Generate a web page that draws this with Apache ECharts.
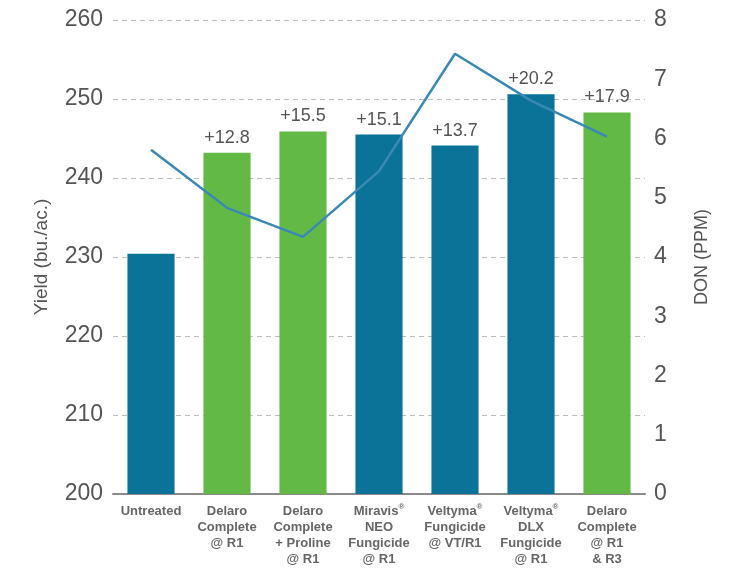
<!DOCTYPE html>
<html>
<head>
<meta charset="utf-8">
<script src="https://cdn.jsdelivr.net/npm/echarts@6/dist/echarts.min.js"></script>
<style>
html,body{margin:0;padding:0;background:#fff;}
#c{width:741px;height:571px;}
</style>
</head>
<body>
<div id="c"></div>
<script>
var categories = ["Untreated", "Delaro\nComplete\n@ R1", "Delaro\nComplete\n+ Proline\n@ R1", "Miravis®\nNEO\nFungicide\n@ R1", "Veltyma®\nFungicide\n@ VT/R1", "Veltyma®\nDLX\nFungicide\n@ R1", "Delaro\nComplete\n@ R1\n& R3"];
var yieldValues = [230.4, 243.2, 245.9, 245.5, 244.1, 250.6, 248.3];
var yieldGain = [null, 12.8, 15.5, 15.1, 13.7, 20.2, 17.9];
var donValues = [5.81, 4.83, 4.34, 5.45, 7.43, 6.64, 6.03];
var barColorKeys = ["blue", "green", "green", "blue", "blue", "blue", "green"];
var palette = {blue: "#0b7398", green: "#63b946"};

var chart = echarts.init(document.getElementById('c'));
var tickFont = 'Liberation Sans, Arial, sans-serif';
chart.setOption({
  animation: false,
  grid: {left: 113, right: 96, top: 20, bottom: 77},
  xAxis: {
    type: 'category',
    data: categories,
    axisLine: {show: true, lineStyle: {color: '#8a8a8a', width: 2}},
    axisTick: {show: false},
    axisLabel: {
      interval: 0,
      margin: 9,
      color: '#666',
      fontSize: 13,
      fontWeight: 'bold',
      fontFamily: 'Liberation Sans Narrow, Liberation Sans, sans-serif',
      lineHeight: 16,
      formatter: function (v) { return v.replace(/®/g, '{r|®}'); },
      rich: {r: {fontSize: 8, verticalAlign: 'top', color: '#666', fontWeight: 'bold', padding: [0, 0, 6, 0]}}
    }
  },
  yAxis: [{
    type: 'value', min: 200, max: 260, interval: 10,
    name: 'Yield (bu./ac.)', nameLocation: 'middle', nameGap: 62, nameRotate: 90,
    nameTextStyle: {color: '#555', fontSize: 19, fontFamily: tickFont},
    axisLine: {show: false}, axisTick: {show: false},
    axisLabel: {color: '#555', fontSize: 23, fontFamily: tickFont, margin: 10},
    splitLine: {show: true, lineStyle: {color: '#bdbdbd', type: [5, 4], width: 1.2}}
  }, {
    type: 'value', min: 0, max: 8, interval: 1,
    name: 'DON (PPM)', nameLocation: 'middle', nameGap: 48, nameRotate: 90,
    nameTextStyle: {color: '#555', fontSize: 18, fontFamily: tickFont},
    axisLine: {show: false}, axisTick: {show: false},
    axisLabel: {color: '#555', fontSize: 23, fontFamily: tickFont, margin: 9},
    splitLine: {show: false}
  }],
  series: [{
    type: 'bar',
    barWidth: '62%',
    data: yieldValues.map(function (v, i) {
      return {value: v, itemStyle: {color: palette[barColorKeys[i]]}};
    }),
    label: {
      show: true, position: 'top', distance: 6,
      color: '#555', fontSize: 18, fontFamily: tickFont,
      formatter: function (p) { var g = yieldGain[p.dataIndex]; return g == null ? '' : '+' + g.toFixed(1); }
    }
  }, {
    type: 'line',
    yAxisIndex: 1,
    data: donValues,
    symbol: 'none',
    lineStyle: {color: '#3a89b5', width: 2.5},
    itemStyle: {color: '#3a89b5'}
  }]
});
</script>
</body>
</html>
